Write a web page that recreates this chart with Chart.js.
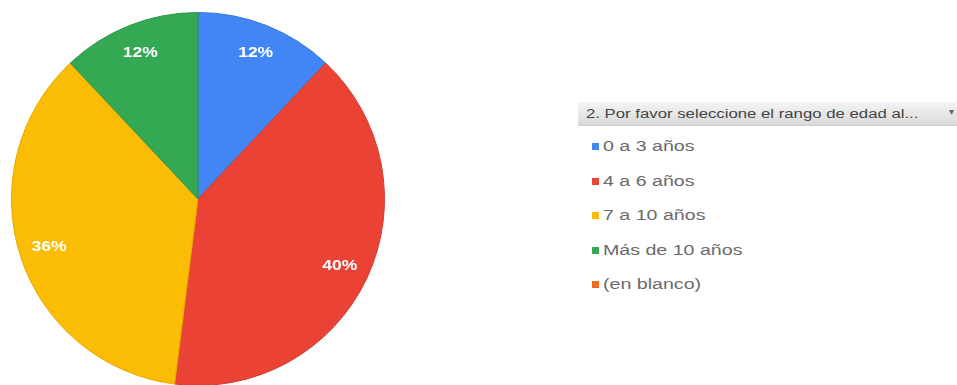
<!DOCTYPE html>
<html lang="es">
<head>
<meta charset="utf-8">
<title>Rango de edad</title>
<script src="https://cdn.jsdelivr.net/npm/chart.js@4/dist/chart.umd.min.js"></script>
<style>
  html, body { margin: 0; padding: 0; background: #fff; }
  body { width: 957px; height: 385px; position: relative; overflow: hidden;
         font-family: "Liberation Sans", Arial, sans-serif; }
  #pieBox { position: absolute; left: 11px; top: 12px; width: 374px; height: 374px; }
  #legendHead { position: absolute; left: 578px; top: 102px; width: 379px; height: 24px;
                background: linear-gradient(#f4f4f4, #dadada); border-bottom: 1px solid #cfcfcf;
                box-sizing: border-box; }
  #legendHead .title { position: absolute; left: 8px; top: 5px; font-size: 12.5px; color: #444;
                       white-space: nowrap; transform-origin: 0 0; transform: scaleX(1.34); }
  #legendHead .arrow { position: absolute; right: 3px; top: 4px; font-size: 10px; color: #666; }
  #legendItems { position: absolute; left: 591px; top: 138px; margin: 0; padding: 0; list-style: none; }
  #legendItems li { height: 34.6px; position: relative; }
  #legendItems .sw { position: absolute; left: 1px; top: 5px; width: 7px; height: 7px; }
  #legendItems .tx { position: absolute; left: 12px; top: 0; font-size: 14px; color: #6a6a6a;
                     white-space: nowrap; transform-origin: 0 0; transform: scaleX(1.4); }
</style>
</head>
<body>
<div id="pieBox"><canvas id="pie"></canvas></div>
<div id="legendHead"><span class="title"></span><span class="arrow">&#9662;</span></div>
<ul id="legendItems"></ul>
<script>
// Age ranges and share of responses (percent)
const categories = ["0 a 3 años", "4 a 6 años", "7 a 10 años", "Más de 10 años", "(en blanco)"];
const shares = [12, 40, 36, 12, 0];
const legendTitle = "2. Por favor seleccione el rango de edad al...";

const fills = ["#4285f4", "#ea4335", "#fbbc04", "#34a853", "#ef6c1e"];
const edges = ["#3a76dc", "#d23a2d", "#e8a800", "#2e9548", "#d85f15"];

// White percentage labels placed inside each slice
const sliceLabels = {
  id: "sliceLabels",
  afterDatasetsDraw(chart) {
    const ctx = chart.ctx;
    const meta = chart.getDatasetMeta(0);
    const values = chart.data.datasets[0].data;
    const total = values.reduce((a, b) => a + b, 0);
    ctx.save();
    ctx.fillStyle = "#ffffff";
    ctx.font = "bold 14px 'Liberation Sans', Arial, sans-serif";
    ctx.textAlign = "center";
    ctx.textBaseline = "middle";
    meta.data.forEach((arc, i) => {
      const v = values[i];
      if (!v) return;
      const p = arc.getProps(["x", "y", "startAngle", "endAngle", "outerRadius"], true);
      const mid = (p.startAngle + p.endAngle) / 2;
      const r = p.outerRadius * 0.84;
      ctx.save();
      ctx.translate(p.x + Math.cos(mid) * r, p.y + Math.sin(mid) * r);
      ctx.scale(1.25, 1);
      ctx.fillText(Math.round(v / total * 100) + "%", 0, 0);
      ctx.restore();
    });
    ctx.restore();
  }
};

const chart = new Chart(document.getElementById("pie"), {
  type: "pie",
  data: {
    labels: categories,
    datasets: [{
      data: shares,
      backgroundColor: fills,
      borderColor: edges,
      borderWidth: 1
    }]
  },
  options: {
    responsive: true,
    maintainAspectRatio: false,
    animation: false,
    layout: { padding: 0 },
    plugins: { legend: { display: false }, tooltip: { enabled: false } }
  },
  plugins: [sliceLabels]
});

// Legend on the right, built from the chart's own labels and colours
document.querySelector("#legendHead .title").textContent = legendTitle;
const list = document.getElementById("legendItems");
chart.data.labels.forEach((label, i) => {
  const li = document.createElement("li");
  const sw = document.createElement("span");
  sw.className = "sw";
  sw.style.background = chart.data.datasets[0].backgroundColor[i];
  const tx = document.createElement("span");
  tx.className = "tx";
  tx.textContent = label;
  li.appendChild(sw);
  li.appendChild(tx);
  list.appendChild(li);
});
</script>
</body>
</html>
